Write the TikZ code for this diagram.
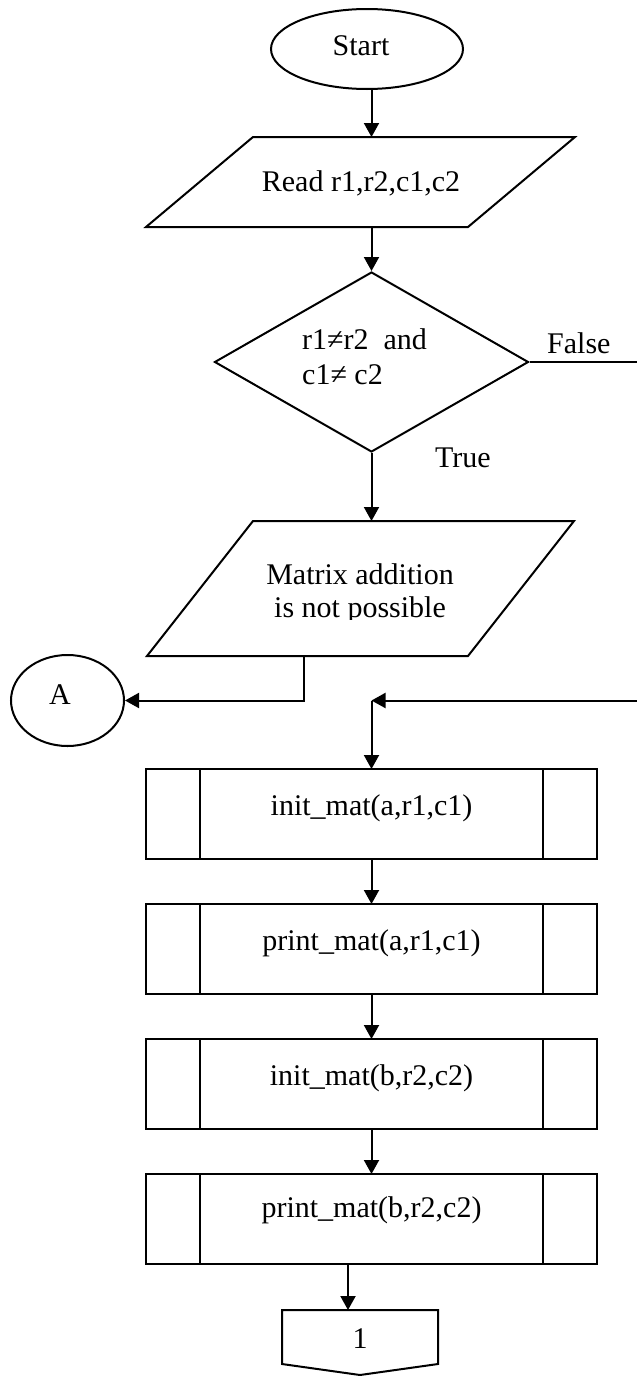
\documentclass[tikz,border=0pt]{standalone}
\usepackage{fontspec}
\setmainfont{Liberation Serif}
\usetikzlibrary{shapes.geometric,arrows.meta,calc}
\begin{document}
\begin{tikzpicture}[x=1pt,y=-1pt,
  line/.style={line width=2pt},
  arr/.style={line, -{Triangle[length=14pt,width=15pt]}},
  txt/.style={inner sep=0pt, font=\fontsize{30pt}{35pt}\selectfont, anchor=base},
  body/.style={inner sep=0pt, outer sep=0pt, draw=none},
  procbox/.style={draw, line, minimum width=451pt, minimum height=90pt,
    inner sep=0pt, outer sep=0pt,
    path picture={
      \draw[line] ([xshift=54pt]path picture bounding box.north west) -- ([xshift=54pt]path picture bounding box.south west);
      \draw[line] ([xshift=-54pt]path picture bounding box.north east) -- ([xshift=-54pt]path picture bounding box.south east);
    }},
  terminal/.style={ellipse, draw, line, inner sep=0pt},
]
\useasboundingbox (0,0) rectangle (637,1376);
\coordinate (col) at (371.5,0);
\coordinate (col2) at (348,0);

% start
\node[terminal, minimum width=192pt, minimum height=80pt] (start) at (367,49) {};
\node[txt] (starttxt) at (361,55) {Start};

% input
\node[body, minimum width=215pt, minimum height=90pt] (read) at (360.5,182) {};
\draw[line] ([xshift=-107pt]read.south west) -- (read.south east) -- ([xshift=107pt]read.north east) -- (read.north west) -- cycle;
\node[txt] (readtxt) at (361,191) {Read r1,r2,c1,c2};

% decision
\node[diamond, draw, line, minimum width=314pt, minimum height=180pt, inner sep=0pt] (dec) at (371.5,362) {};
\node[txt, anchor=base west] (dec1) at (302,349) {r1≠r2\ \ and};
\node[txt, anchor=base west] (dec2) at (302,384) {c1≠ c2};
\node[txt, anchor=base west] (false) at (547,353) {False};
\node[txt, anchor=base west] (true) at (435,467) {True};

% message output
\node[body, minimum width=215pt, minimum height=135pt] (msg) at (360.5,588.5) {};
\draw[line] ([xshift=-106pt]msg.south west) -- (msg.south east) -- ([xshift=106pt]msg.north east) -- (msg.north west) -- cycle;
\node[txt] (msg1) at (360,584) {Matrix addition};
\begin{scope}
  \clip (100,590) rectangle (600,619);
  \node[txt] (msg2) at (360,617) {is not possible};
\end{scope}

% connector A
\node[terminal, minimum width=113pt, minimum height=91pt] (A) at (67.5,700.5) {};
\node[txt] (Atxt) at (60,704) {A};

% predefined processes
\node[procbox] (b1) at (371.5,814) {};
\node[txt] (t1) at (371.5,815) {init\_mat(a,r1,c1)};
\node[procbox] (b2) at (371.5,949) {};
\node[txt] (t2) at (371.5,950) {print\_mat(a,r1,c1)};
\node[procbox] (b3) at (371.5,1084) {};
\node[txt] (t3) at (371.5,1085) {init\_mat(b,r2,c2)};
\node[procbox] (b4) at (371.5,1219) {};
\node[txt] (t4) at (371.5,1217) {print\_mat(b,r2,c2)};

% off-page connector
\node[body, minimum width=156pt, minimum height=54pt] (conn) at (360,1337) {};
\draw[line] (conn.north west) -- (conn.north east) -- (conn.south east) -- ([yshift=-11pt]conn.south) -- (conn.south west) -- cycle;
\node[txt] (conntxt) at (360,1348) {1};

% flow lines; the return path runs just past the right margin
\coordinate (rt) at (639,0);
\coordinate (join) at (371.5,700.5);
\draw[arr] (start.south -| col) -- (read.north -| col);
\draw[arr] (read.south -| col) -- (dec.north);
\draw[arr] (dec.south) -- (msg.north -| col);
\draw[arr] ([xshift=-56.5pt]msg.south) |- (A.east);
\draw[arr] (dec.east) -- (dec.east -| rt) -- (rt |- join) -- (join);
\draw[arr] (join) -- (b1.north);
\draw[arr] (b1.south) -- (b2.north);
\draw[arr] (b2.south) -- (b3.north);
\draw[arr] (b3.south) -- (b4.north);
\draw[arr] (b4.south -| col2) -- (conn.north -| col2);
\end{tikzpicture}
\end{document}
